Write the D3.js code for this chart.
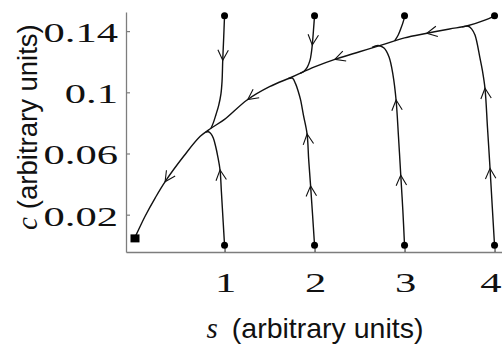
<!DOCTYPE html>
<html>
<head>
<meta charset="utf-8">
<script src="https://cdn.jsdelivr.net/npm/d3@7"></script>
<style>
  body { margin: 0; background: #fff; }
  svg { display: block; }
</style>
</head>
<body>
<svg id="chart" width="502" height="344"></svg>
<script>
// ---- axis ticks ----
const sTicks = [1, 2, 3, 4];
const sTickLabels = ["1", "2", "3", "4"];
const cTicks = [0.02, 0.06, 0.1, 0.14];
const cTickLabels = ["0.02", "0.06", "0.1", "0.14"];

// ---- slow manifold, listed in the direction of flow (toward the origin) ----
const manifoldS = [4.0, 3.9, 3.7, 3.5, 3.25, 3.0, 2.75, 2.5, 2.25, 2.0, 1.75, 1.5, 1.25, 1.0, 0.85, 0.73, 0.55, 0.34, 0.23, 0.12, 0.01];
const manifoldC = [0.150, 0.1473, 0.1435, 0.1414, 0.1386, 0.1356, 0.131, 0.1265, 0.122, 0.1166, 0.110, 0.1037, 0.095, 0.0823, 0.0765, 0.0712, 0.0585, 0.0416, 0.031, 0.0193, 0.0058];

// ---- fast transients starting at c = 0.15 ----
const top1S = [1.0, 0.99, 0.98, 0.972, 0.96, 0.935, 0.905, 0.878, 0.85];
const top1C = [0.15, 0.135, 0.121, 0.107, 0.099, 0.0915, 0.0855, 0.0805, 0.0765];
const top2S = [2.0, 1.99, 1.975, 1.965, 1.95, 1.92, 1.88, 1.84];
const top2C = [0.15, 0.142, 0.131, 0.126, 0.121, 0.1165, 0.1136, 0.1124];
const top3S = [3.0, 2.99, 2.96, 2.93, 2.89];
const top3C = [0.15, 0.147, 0.1418, 0.1375, 0.1336];

// ---- fast transients starting at c = 0 ----
const bot1S = [1.0, 0.985, 0.965, 0.95, 0.925, 0.902, 0.876, 0.85, 0.82, 0.79];
const bot1C = [0, 0.015, 0.035, 0.0492, 0.058, 0.0644, 0.0699, 0.0728, 0.0742, 0.074];
const bot2S = [2.0, 1.978, 1.956, 1.935, 1.917, 1.876, 1.845, 1.82, 1.79, 1.755, 1.71];
const bot2C = [0, 0.02, 0.039, 0.056, 0.0728, 0.0852, 0.095, 0.1004, 0.1055, 0.1092, 0.109];
const bot3S = [3.0, 2.981, 2.958, 2.933, 2.906, 2.872, 2.828, 2.772, 2.706, 2.639];
const bot3C = [0, 0.0231, 0.0459, 0.0708, 0.095, 0.1113, 0.1231, 0.129, 0.1306, 0.1293];
const bot4S = [4.0, 3.975, 3.95, 3.922, 3.894, 3.866, 3.839, 3.783, 3.745, 3.709, 3.64];
const bot4C = [0, 0.025, 0.0503, 0.0767, 0.1026, 0.114, 0.1222, 0.1374, 0.1415, 0.1432, 0.1428];

// ---- arrowhead locations (s, c) along each curve ----
const manifoldArrows = [[3.247, 0.1386], [2.228, 0.1211], [1.264, 0.095], [0.339, 0.0416]];
const top1Arrows = [[0.976, 0.121]];
const top2Arrows = [[1.969, 0.131]];
const top3Arrows = [];
const bot1Arrows = [[0.95, 0.0492]];
const bot2Arrows = [[1.956, 0.0388], [1.917, 0.0727]];
const bot3Arrows = [[2.958, 0.0459], [2.906, 0.095]];
const bot4Arrows = [[3.95, 0.0503], [3.894, 0.1026]];

// ---- initial conditions and the steady state ----
const startS = [1, 2, 3, 4, 1, 2, 3, 4];
const startC = [0.15, 0.15, 0.15, 0.15, 0, 0, 0, 0];
const steadyS = 0.005;
const steadyC = 0.0045;

// axis extents
const sDomain = [-0.095, 4.083];
const cDomain = [-0.0044, 0.1525];

const svg = d3.select("#chart");
const x = d3.scaleLinear().domain(sDomain).range([126, 502]);
const y = d3.scaleLinear().domain(cDomain).range([252, 12]);

const axisColor = "#7d7d7d";

// left axis (ticks point inward)
const gy = svg.append("g").attr("transform", `translate(${x(sDomain[0])},0)`)
  .call(d3.axisLeft(y).tickValues(cTicks).tickSizeInner(-4).tickSizeOuter(0).tickFormat(""));
gy.select(".domain").attr("stroke", axisColor).attr("stroke-width", 1.3);
gy.selectAll(".tick line").attr("stroke", axisColor).attr("stroke-width", 1.2);

// bottom axis
const gx = svg.append("g").attr("transform", `translate(0,${y(cDomain[0])})`)
  .call(d3.axisBottom(x).tickValues(sTicks).tickSizeInner(-4).tickSizeOuter(0).tickFormat(""));
gx.select(".domain").attr("stroke", axisColor).attr("stroke-width", 1.3);
gx.selectAll(".tick line").attr("stroke", "#444").attr("stroke-width", 1.2);

// tick labels (wide serif numerals)
const tickFont = "'Liberation Serif', 'Times New Roman', serif";
svg.append("g").selectAll("text").data(cTicks).join("text")
  .attr("transform", d => `translate(118,${y(d) + 11}) scale(1.52,1)`)
  .attr("text-anchor", "end")
  .attr("font-family", tickFont)
  .attr("font-size", 28)
  .attr("fill", "#111")
  .text((d, i) => cTickLabels[i]);

// the last label is pulled in so it stays inside the frame
svg.append("g").selectAll("text").data(sTicks).join("text")
  .attr("transform", d => `translate(${Math.min(x(d) + 1, 491)},291.5) scale(1.52,1)`)
  .attr("text-anchor", "middle")
  .attr("font-family", tickFont)
  .attr("font-size", 28)
  .attr("fill", "#111")
  .text((d, i) => sTickLabels[i]);

// axis titles
const xt = svg.append("text").attr("x", 206.5).attr("y", 337.5).attr("fill", "#111");
xt.append("tspan").attr("font-family", tickFont).attr("font-style", "italic").attr("font-size", 29).text("s");
xt.append("tspan").attr("font-family", "'Liberation Sans', Arial, sans-serif").attr("font-size", 28.5)
  .attr("dx", 14).text("(arbitrary units)");

const yt = svg.append("text").attr("transform", "translate(37,230) rotate(-90)").attr("fill", "#111");
yt.append("tspan").attr("font-family", tickFont).attr("font-style", "italic").attr("font-size", 29).text("c");
yt.append("tspan").attr("font-family", "'Liberation Sans', Arial, sans-serif").attr("font-size", 27.5)
  .attr("dx", 8).text("(arbitrary units)");

// curves
const line = d3.line().x(d => x(d[0])).y(d => y(d[1])).curve(d3.curveCatmullRom.alpha(0.5));
const zip = (a, b) => a.map((v, i) => [v, b[i]]);

const curves = [
  { s: manifoldS, c: manifoldC, arrows: manifoldArrows },
  { s: top1S, c: top1C, arrows: top1Arrows },
  { s: top2S, c: top2C, arrows: top2Arrows },
  { s: top3S, c: top3C, arrows: top3Arrows },
  { s: bot1S, c: bot1C, arrows: bot1Arrows },
  { s: bot2S, c: bot2C, arrows: bot2Arrows },
  { s: bot3S, c: bot3C, arrows: bot3Arrows },
  { s: bot4S, c: bot4C, arrows: bot4Arrows }
];

const gCurves = svg.append("g");
const gArrows = svg.append("g");
const headLen = 11.5, headAng = 27 * Math.PI / 180;

curves.forEach(cv => {
  const path = gCurves.append("path")
    .attr("d", line(zip(cv.s, cv.c)))
    .attr("fill", "none")
    .attr("stroke", "#111")
    .attr("stroke-width", 1.4);
  const node = path.node();
  const total = node.getTotalLength();
  cv.arrows.forEach(([as, ac]) => {
    const tx = x(as), ty = y(ac);
    let best = 0, bestD = Infinity;
    for (let L = 0; L <= total; L += 0.25) {
      const p = node.getPointAtLength(L);
      const dd = (p.x - tx) ** 2 + (p.y - ty) ** 2;
      if (dd < bestD) { bestD = dd; best = L; }
    }
    const p = node.getPointAtLength(best);
    const p0 = node.getPointAtLength(Math.max(0, best - 2));
    const p1 = node.getPointAtLength(Math.min(total, best + 2));
    const ang = Math.atan2(p1.y - p0.y, p1.x - p0.x);
    const back = ang + Math.PI;
    const w1 = [p.x + headLen * Math.cos(back + headAng), p.y + headLen * Math.sin(back + headAng)];
    const w2 = [p.x + headLen * Math.cos(back - headAng), p.y + headLen * Math.sin(back - headAng)];
    gArrows.append("path")
      .attr("d", `M${w1[0]},${w1[1]}L${p.x},${p.y}L${w2[0]},${w2[1]}`)
      .attr("fill", "none")
      .attr("stroke", "#111")
      .attr("stroke-width", 1.1);
  });
});

// initial conditions
svg.append("g").selectAll("circle").data(startS).join("circle")
  .attr("cx", d => x(d))
  .attr("cy", (d, i) => y(startC[i]))
  .attr("r", 3.5)
  .attr("fill", "#000");

// steady state
svg.append("rect")
  .attr("x", x(steadyS) - 4.5)
  .attr("y", y(steadyC) - 4)
  .attr("width", 9)
  .attr("height", 8)
  .attr("fill", "#000");
</script>
</body>
</html>
